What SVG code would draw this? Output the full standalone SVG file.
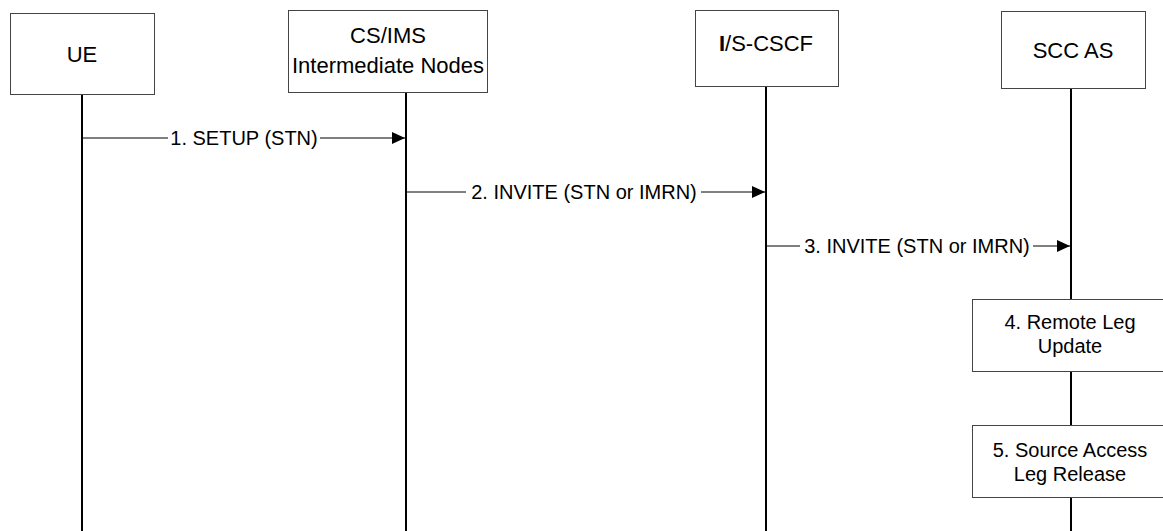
<svg xmlns="http://www.w3.org/2000/svg" width="1163" height="531" viewBox="0 0 1163 531">
<style>
.box{fill:#fff;stroke:#444;stroke-width:1}
.life{stroke:#000;stroke-width:2;fill:none}
.msg{stroke:#000;stroke-width:1;fill:none}
.t{font-family:"Liberation Sans",Arial,sans-serif;font-size:20px;fill:#000;text-anchor:middle}
.h{font-size:22px}
.bg{fill:#fff}
</style>
<defs>
<marker id="ah" markerWidth="13" markerHeight="12" refX="13" refY="6" orient="auto" markerUnits="userSpaceOnUse">
<path d="M0,0 L13,6 L0,12 Z" fill="#000"/>
</marker>
</defs>
<g id="lifelines">
<line class="life" x1="82" y1="95" x2="82" y2="531"/>
<line class="life" x1="406" y1="93" x2="406" y2="531"/>
<line class="life" x1="766" y1="87" x2="766" y2="531"/>
<line class="life" x1="1071" y1="89" x2="1071" y2="531"/>
</g>
<g id="UE">
<rect class="box" x="10.5" y="13.5" width="144" height="81"/>
<text class="t h" x="82" y="62">UE</text>
</g>
<g id="CSIMS">
<rect class="box" x="288.5" y="10.5" width="199" height="82"/>
<text class="t h" x="388" y="43">CS/IMS</text>
<text class="t h" x="388" y="73">Intermediate Nodes</text>
</g>
<g id="ISCSCF">
<rect class="box" x="695.5" y="10.5" width="143" height="76"/>
<text class="t h" x="766" y="51" font-size="23"><tspan font-weight="bold">I</tspan>/S-CSCF</text>
</g>
<g id="SCCAS">
<rect class="box" x="1001.5" y="11.5" width="144" height="77"/>
<text class="t h" x="1073" y="58">SCC AS</text>
</g>
<g id="connectors">
<line class="msg" x1="82" y1="138" x2="405" y2="138" marker-end="url(#ah)"/>
<rect class="bg" x="168" y="126" width="152" height="22"/>
<text class="t" x="244" y="145">1. SETUP (STN)</text>
<line class="msg" x1="406" y1="192" x2="765" y2="192" marker-end="url(#ah)"/>
<rect class="bg" x="466" y="180" width="235" height="22"/>
<text class="t" x="584" y="199">2. INVITE (STN or IMRN)</text>
<line class="msg" x1="766" y1="246" x2="1070" y2="246" marker-end="url(#ah)"/>
<rect class="bg" x="800" y="234" width="233" height="22"/>
<text class="t" x="917" y="253">3. INVITE (STN or IMRN)</text>
</g>
<g id="step4">
<rect class="box" x="972.5" y="299.5" width="200" height="72"/>
<text class="t" x="1070" y="329">4. Remote Leg</text>
<text class="t" x="1070" y="353">Update</text>
</g>
<g id="step5">
<rect class="box" x="972.5" y="425.5" width="200" height="72"/>
<text class="t" x="1070" y="457">5. Source Access</text>
<text class="t" x="1070" y="481">Leg Release</text>
</g>
</svg>
